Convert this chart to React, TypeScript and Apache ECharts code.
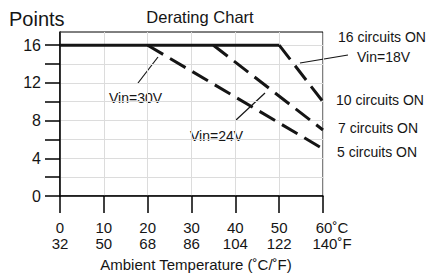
import React, { useEffect, useRef } from "react";
import * as echarts from "echarts";

const celsiusTicks = [0, 10, 20, 30, 40, 50, 60];
const fahrenheitTicks = [32, 50, 68, 86, 104, 122, 140];
const yTickValues = [0, 2, 4, 6, 8, 10, 12, 14, 16];
const yLabelValues = [0, 4, 8, 12, 16];

const fullLoad: [number, number][] = [[0, 16], [50, 16]];
const vin18: [number, number][] = [[50, 16], [60, 10]];
const vin24: [number, number][] = [[35, 16], [60, 7]];
const vin30: [number, number][] = [[20, 16], [60, 5]];

const FONT = "Liberation Sans, Arial, sans-serif";
const INK = "#151515";

export default function App() {
  const ref = useRef<HTMLDivElement>(null);
  useEffect(() => {
    if (!ref.current) return;
    const chart = echarts.init(ref.current, undefined, { renderer: "svg" });
    const lastIdx = celsiusTicks.length - 1;
    const dashed = (name: string, data: [number, number][]) => ({
      name,
      type: "line",
      data,
      symbol: "none",
      lineStyle: { color: INK, width: 3, type: [18, 8] },
      z: 3,
    });
    const txt = (text: string, x: number, y: number, size = 14, align = "left") => ({
      type: "text",
      x,
      y,
      style: { text, fill: INK, font: `${size}px ${FONT}`, align, verticalAlign: "middle" },
    });
    const ln = (x1: number, y1: number, x2: number, y2: number) => ({
      type: "line",
      shape: { x1, y1, x2, y2 },
      style: { stroke: INK, lineWidth: 1.2 },
    });
    chart.setOption({
      animation: false,
      backgroundColor: "#fff",
      grid: { left: 60, right: 103, top: 32, bottom: 77, show: true, borderColor: "#000", borderWidth: 1 },
      xAxis: {
        type: "value",
        min: 0,
        max: 60,
        interval: 10,
        axisLine: { lineStyle: { color: "#000", width: 1.5 } },
        axisTick: { length: 17, lineStyle: { color: "#000", width: 1.5 } },
        splitLine: { show: true, lineStyle: { color: "#dcdcdc", width: 1 } },
        axisLabel: {
          margin: 23,
          color: INK,
          fontSize: 15,
          fontFamily: FONT,
          lineHeight: 16,
          formatter: (v: number) => {
            const i = celsiusTicks.indexOf(v);
            if (i < 0) return "";
            if (i === lastIdx) return `{e|${celsiusTicks[i]}˚C}\n{e|${fahrenheitTicks[i]}˚F}`;
            return `${celsiusTicks[i]}\n${fahrenheitTicks[i]}`;
          },
          rich: { e: { padding: [0, 0, 0, 18], fontSize: 15, fontFamily: FONT, color: INK, lineHeight: 16 } },
        },
      },
      yAxis: {
        type: "value",
        min: 0,
        max: 17.4,
        axisLine: { show: true, lineStyle: { color: "#000", width: 1.5 } },
        axisTick: { show: true, length: 15, customValues: yTickValues, lineStyle: { color: "#000", width: 1.5 } },
        splitLine: { show: true, lineStyle: { color: "#dcdcdc", width: 1 } },
        axisLabel: {
          margin: 19,
          color: INK,
          fontSize: 16,
          fontFamily: FONT,
          customValues: yLabelValues,
        },
      },
      series: [
        {
          name: "16 circuits",
          type: "line",
          data: fullLoad,
          symbol: "none",
          lineStyle: { color: INK, width: 3 },
          z: 4,
        },
        dashed("Vin=18V", vin18),
        dashed("Vin=24V", vin24),
        dashed("Vin=30V", vin30),
      ],
      graphic: [
        txt("Points", 9, 19, 20),
        txt("Derating Chart", 200, 17, 16.5, "center"),
        txt("Ambient Temperature (˚C/˚F)", 196, 264, 15, "center"),
        txt("16 circuits ON", 338, 37),
        txt("Vin=18V", 357, 57),
        txt("10 circuits ON", 336, 100),
        txt("7 circuits ON", 338, 128),
        txt("5 circuits ON", 337, 152),
        txt("Vin=30V", 109, 98),
        txt("Vin=24V", 190, 136),
        ln(138, 83, 158, 57),
        ln(236, 120, 265, 93),
        ln(300, 63, 348, 55),
      ],
    });
    return () => chart.dispose();
  }, []);
  return <div ref={ref} style={{ position: "fixed", left: 0, top: 0, width: 426, height: 273 }} />;
}
